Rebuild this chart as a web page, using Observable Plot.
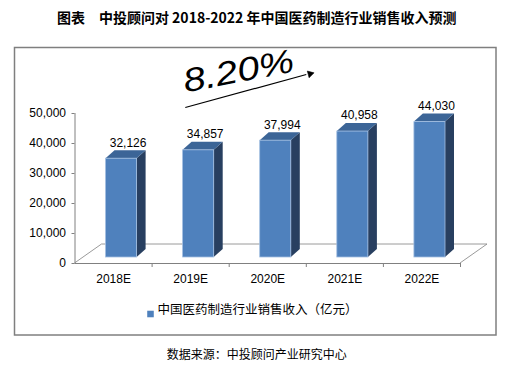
<!DOCTYPE html>
<html><head><meta charset="utf-8">
<script src="https://cdn.jsdelivr.net/npm/d3@7"></script>
<script src="https://cdn.jsdelivr.net/npm/@observablehq/plot@0.6"></script>
<style>html,body{margin:0;background:#fff;overflow:hidden} svg{display:block}</style>
</head><body><div id="chart"></div>
<script>
const years = ["2018E", "2019E", "2020E", "2021E", "2022E"];
const sales = [32126, 34857, 37994, 40958, 44030];
const yTicks = [0, 10000, 20000, 30000, 40000, 50000];
const titleText = "图表　中投顾问对 2018-2022 年中国医药制造行业销售收入预测";
const seriesName = "中国医药制造行业销售收入（亿元）";
const sourceText = "数据来源：中投顾问产业研究中心";
const growthText = "8.20%";

const data = years.map((year, i) => ({year, i, value: sales[i]}));

const FRONT = "#4F81BD", SIDE = "#283F60", TOP = "#3C6597", EDGE = "#A3BFE2", GRID = "#808080";
const floorDepth = [27, -19], barOff = [8, -6], barDepth = [9, -8], persp = 1.025, inset = 23;
const SANS = "Liberation Sans, Arial, sans-serif";
const CJK = "Noto Sans CJK SC, sans-serif";
const fmt = d3.format(",");

function depth3d(index, scales) {
  const x = scales.x, y = scales.y;
  const g = d3.create("svg:g");
  g.append("rect").attr("x", 14.5).attr("y", 47.5).attr("width", 481.5).attr("height", 287.5)
    .attr("fill", "none").attr("stroke", "#7f7f7f").attr("stroke-width", 1.5);
  const x0 = x(0), x5 = x(5), y0 = y(0);
  g.append("path")
    .attr("d", `M${x0},${y0}L${x0 + floorDepth[0]},${y0 + floorDepth[1]}L${x5 + floorDepth[0]},${y0 + floorDepth[1]}L${x5},${y0}`)
    .attr("fill", "none").attr("stroke", GRID).attr("stroke-width", 0.8);
  data.forEach(d => {
    const xl = x(d.i) + inset + barOff[0], xr = x(d.i + 1) - inset + barOff[0];
    const yb = y(0) + barOff[1], yt = y(d.value * persp) + barOff[1];
    const [bx, by] = barDepth;
    g.append("path").attr("d", `M${xr},${yt}L${xr + bx},${yt + by}L${xr + bx},${yb + by}L${xr},${yb}Z`).attr("fill", SIDE);
    g.append("path").attr("d", `M${xl},${yt}L${xl + bx},${yt + by}L${xr + bx},${yt + by}L${xr},${yt}Z`).attr("fill", TOP);
  });
  return g.node();
}

const arrowFrom = () => 1.43, arrowTo = () => 3.05;
const chart = Plot.plot({
  width: 516, height: 368,
  marginLeft: 74.5, marginRight: 56, marginTop: 113, marginBottom: 105,
  style: {fontFamily: SANS, fontSize: "12px", background: "#fff", color: "#000"},
  x: {domain: [0, 5], axis: null, label: null},
  y: {domain: [0, 50000], axis: null, label: null},
  marks: [
    depth3d,
    Plot.rectY(data, {x1: "i", x2: d => d.i + 1, y: d => d.value * persp, insetLeft: inset, insetRight: inset,
      dx: barOff[0], dy: barOff[1], fill: FRONT, stroke: EDGE, strokeWidth: 0.8}),
    Plot.ruleX([0], {y1: 0, y2: 50000, stroke: GRID}),
    Plot.ruleY([0], {x1: 0, x2: 5, stroke: GRID}),
    Plot.axisY(yTicks, {tickSize: 3, tickPadding: 6, tickFormat: fmt, stroke: GRID, fill: "#000", fontSize: 12, label: null}),
    Plot.axisX([1, 2, 3, 4, 5], {tickSize: 4, tickFormat: () => "", stroke: GRID, label: null}),
    Plot.axisX(data.map(d => d.i + 0.5), {tickSize: 0, tickPadding: 11, tickFormat: v => years[Math.floor(v)], fill: "#000", fontSize: 12, label: null}),
    Plot.text(data, {x: d => d.i + 0.5, y: d => d.value * persp, text: d => fmt(d.value), dx: 14.5, dy: -22, fontSize: 12, fill: "#000"}),
    Plot.link([growthText], {x1: arrowFrom, y1: () => 52000, x2: () => 3.0, y2: () => 63000, strokeWidth: 1.2, stroke: "#000"}),
    Plot.dot([growthText], {x: arrowTo, y: () => 63200, symbol: "triangle", r: 2.6, rotate: 75, fill: "#000", stroke: "#000", strokeWidth: 0.5}),
    Plot.text([growthText], {x: () => 2.12, y: () => 64000, text: d => d, rotate: -11, fontStyle: "italic", fontSize: 33, fill: "#000"}),
    Plot.text([titleText], {frameAnchor: "top", text: d => d, dx: -11, dy: -100, fontFamily: CJK, fontWeight: "bold", fontSize: 14, fill: "#000"}),
    Plot.dot([seriesName], {frameAnchor: "bottom-left", dx: 75.5, dy: 50.5, symbol: "square", r: 3.7, fill: FRONT}),
    Plot.text([seriesName], {frameAnchor: "bottom-left", text: d => d, dx: 82.5, dy: 50, textAnchor: "start", fontFamily: CJK, fontSize: 12.5, fill: "#000"}),
    Plot.text([sourceText], {frameAnchor: "bottom", text: d => d, dx: -11, dy: 95, fontFamily: CJK, fontSize: 12, fill: "#000"})
  ]
});
d3.select(chart).selectAll("text").filter(function() { return this.textContent === growthText; })
  .attr("transform", function() { return this.getAttribute("transform") + " scale(1.2,1)"; });
document.getElementById("chart").append(chart);
</script>
</body></html>
